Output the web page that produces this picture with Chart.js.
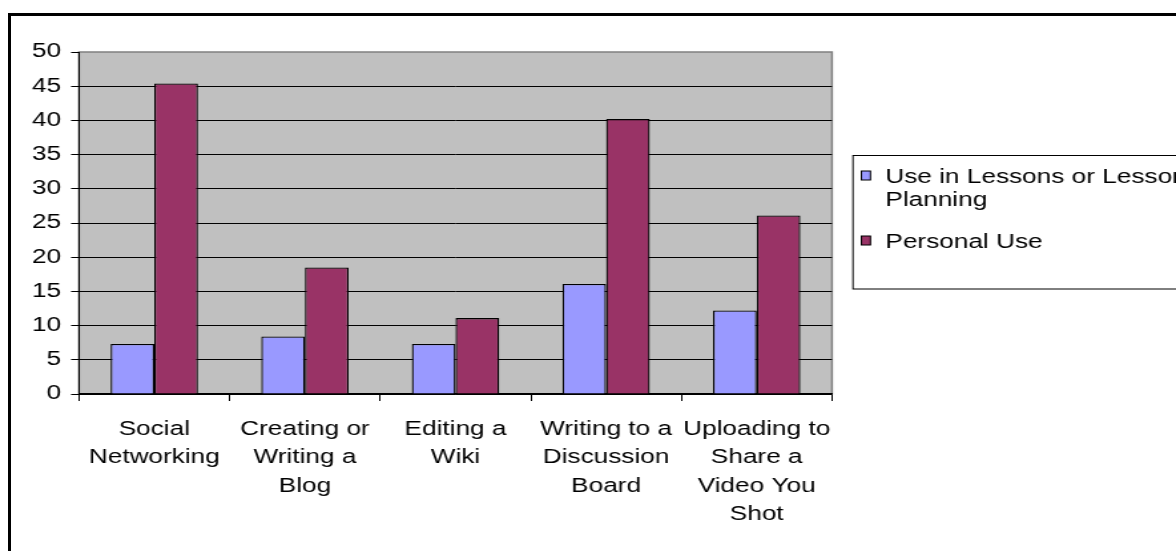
<!DOCTYPE html>
<html>
<head>
<meta charset="utf-8">
<script src="https://cdn.jsdelivr.net/npm/chart.js@4.4.1/dist/chart.umd.min.js"></script>
<style>
    html, body { margin: 0; padding: 0; background: #fff; overflow: hidden; }
    body { width: 1176px; height: 551px; position: relative; }
    #frame { position: absolute; left: 8px; top: 13px; width: 2000px; height: 2000px; border: 3px solid #000; box-sizing: border-box; }
    /* the source picture is stretched sideways, so the canvas is too */
    #wrap { position: absolute; left: 0; top: 0; width: 884px; height: 551px; transform: scaleX(1.3303); transform-origin: 0 0; }
</style>
</head>
<body>
<div id="frame"></div>
<div id="wrap"><canvas id="webChart"></canvas></div>
<script>
const categories = [
    ['Social', 'Networking'],
    ['Creating or', 'Writing a', 'Blog'],
    ['Editing a', 'Wiki'],
    ['Writing to a', 'Discussion', 'Board'],
    ['Uploading to', 'Share a', 'Video You', 'Shot']
];
const seriesNames = ['Use in Lessons or Lesson Planning', 'Personal Use'];
const lessonUse = [7.3, 8.4, 7.3, 16.1, 12.2];
const personalUse = [45.4, 18.5, 11.1, 40.2, 26.1];
const yMin = 0;
const yMax = 50;
const yStep = 5;

const fontFamily = '"Liberation Sans", Arial, sans-serif';
const fontSize = 19.7;

// grey plot background + border
const plotBackground = {
    id: 'plotBackground',
    beforeDraw(chart) {
        const a = chart.chartArea;
        const ctx = chart.ctx;
        ctx.save();
        ctx.fillStyle = '#C0C0C0';
        ctx.fillRect(a.left, a.top, a.right - a.left, a.bottom - a.top);
        ctx.strokeStyle = '#808080';
        ctx.lineWidth = 1.5;
        ctx.strokeRect(a.left, a.top, a.right - a.left, a.bottom - a.top);
        ctx.restore();
    }
};

// legend in a box, with wrapped labels
const boxLegend = {
    id: 'boxLegend',
    afterDraw(chart) {
        const ctx = chart.ctx;
        ctx.save();
        ctx.strokeStyle = '#000';
        ctx.lineWidth = 1;
        ctx.strokeRect(641.2, 155.5, 400, 133.5);

        ctx.font = fontSize + 'px ' + fontFamily;
        ctx.fillStyle = '#000';
        ctx.textBaseline = 'alphabetic';
        let y = 183;
        chart.data.datasets.forEach(function(ds) {
            const words = ds.label.split(' ');
            const lines = [];
            let line = '';
            words.forEach(function(w) {
                const test = line ? line + ' ' + w : w;
                if (line && ctx.measureText(test).width > 250) {
                    lines.push(line);
                    line = w;
                } else {
                    line = test;
                }
            });
            lines.push(line);

            ctx.fillStyle = ds.backgroundColor;
            ctx.fillRect(647.5, y - 12, 6.8, 9);
            ctx.strokeStyle = '#000';
            ctx.lineWidth = 1;
            ctx.strokeRect(647.5, y - 12, 6.8, 9);

            ctx.fillStyle = '#000';
            lines.forEach(function(l, i) {
                ctx.fillText(l, 665.5, y + i * 23);
            });
            y += lines.length * 23 + 19;
        });
        ctx.restore();
    }
};

const ctx = document.getElementById('webChart').getContext('2d');

const chart = new Chart(ctx, {
    type: 'bar',
    data: {
        labels: categories,
        datasets: [{
            label: seriesNames[0],
            data: lessonUse,
            backgroundColor: '#9999FF',
            borderColor: '#000',
            borderWidth: 1.3
        }, {
            label: seriesNames[1],
            data: personalUse,
            backgroundColor: '#993366',
            borderColor: '#000',
            borderWidth: 1.3
        }]
    },
    options: {
        responsive: true,
        maintainAspectRatio: false,
        animation: false,
        layout: {
            padding: { top: 52, right: 258.6, left: 0, bottom: 0 }
        },
        datasets: {
            bar: {
                categoryPercentage: 0.58,
                barPercentage: 1
            }
        },
        plugins: {
            legend: { display: false },
            tooltip: { enabled: false }
        },
        scales: {
            x: {
                grid: {
                    drawOnChartArea: false,
                    tickLength: 7,
                    tickColor: '#000',
                    tickWidth: 1
                },
                border: { color: '#000', width: 1.5 },
                ticks: {
                    color: '#000',
                    maxRotation: 0,
                    autoSkip: false,
                    padding: 14,
                    font: { family: fontFamily, size: fontSize, lineHeight: 1.45 }
                },
                afterFit(scale) {
                    scale.height = 157;
                }
            },
            y: {
                min: yMin,
                max: yMax,
                grid: {
                    color: function(c) {
                        return c.tick && c.tick.value === yMax ? 'rgba(0,0,0,0)' : '#000';
                    },
                    lineWidth: 1,
                    tickLength: 6,
                    tickColor: '#000'
                },
                border: { color: '#000', width: 1 },
                ticks: {
                    stepSize: yStep,
                    color: '#000',
                    padding: 7.5,
                    font: { family: fontFamily, size: fontSize }
                },
                afterFit(scale) {
                    scale.width = 59.4;
                }
            }
        }
    },
    plugins: [plotBackground, boxLegend]
});
</script>
</body>
</html>
